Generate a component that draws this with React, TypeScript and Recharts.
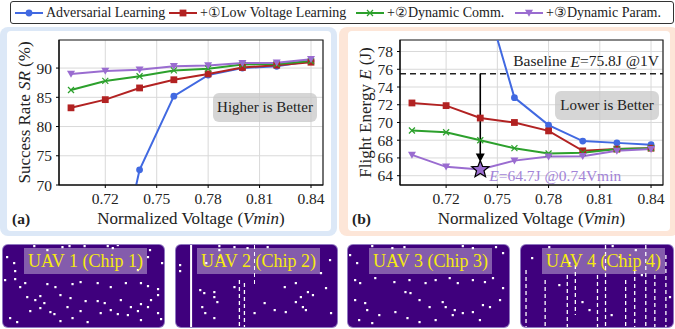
import React from 'react';
import {
  ComposedChart, Line, XAxis, YAxis, CartesianGrid, ReferenceLine, ReferenceArea, ReferenceDot,
  ScatterChart, Scatter,
} from 'recharts';

const FONT = '"Liberation Serif", "DejaVu Serif", serif';
const TXT = '#222';

// ---------- data ----------
const voltages = [0.70, 0.72, 0.74, 0.76, 0.78, 0.80, 0.82, 0.84];
const xTicks = [0.72, 0.75, 0.78, 0.81, 0.84];
const srTicks = [70, 75, 80, 85, 90];
const energyTicks = [64, 66, 68, 70, 72, 74, 76, 78];

const srAdversarial = [20, 46, 72.6, 85.2, 88.8, 90.0, 90.3, 91.2];
const srLowVoltage = [83.2, 84.6, 86.6, 88.0, 89.0, 90.1, 90.5, 91.0];
const srDynComm = [86.25, 87.8, 88.6, 89.6, 89.9, 90.6, 90.7, 91.2];
const srDynParam = [89.0, 89.5, 89.7, 90.3, 90.45, 90.85, 90.9, 91.5];

const eAdversarial = [115, 100, 86, 72.8, 69.7, 67.9, 67.7, 67.5];
const eLowVoltage = [72.2, 71.9, 70.5, 70.0, 69.05, 66.8, 67.0, 67.1];
const eDynComm = [69.1, 68.9, 68.0, 67.1, 66.5, 66.6, 67.0, 67.1];
const eDynParam = [66.35, 65.0, 64.7, 65.7, 66.15, 66.2, 66.8, 67.0];

const baselineEnergy = 75.5;
const bestVoltage = 0.74;
const bestEnergy = 64.7;

const seriesNames = ['Adversarial Learning', 'Low Voltage Learning', 'Dynamic Comm.', 'Dynamic Param.'];
const seriesPrefix = ['', '+\u2460', '+\u2461', '+\u2462'];
const seriesColors = ['#4169e1', '#b22222', '#2ca02c', '#9a6cd0'];
const seriesMarkers = ['circle', 'square', 'x', 'tri'];

const uavLabels = ['UAV 1 (Chip 1)', 'UAV 2 (Chip 2)', 'UAV 3 (Chip 3)', 'UAV 4 (Chip 4)'];

const uav1Dots = [
  [31, 1], [44, 5], [59, 2], [66, 1], [81, 1], [104, 1], [109, 3], [114, 0], [146, 5],
  [4, 12], [11, 18], [12, 26], [2, 35], [12, 34], [158, 18], [144, 12], [134, 25],
  [17, 42], [22, 38], [44, 39], [52, 42], [69, 39], [77, 37], [94, 38], [107, 42], [122, 38], [137, 38], [144, 41], [154, 44],
  [24, 52], [32, 55], [37, 51], [41, 58], [57, 50], [67, 53], [82, 56], [94, 56], [101, 58], [107, 65], [117, 55], [127, 62],
  [137, 59], [147, 55], [154, 50], [27, 66], [47, 67], [51, 69], [69, 73], [77, 66], [97, 68], [114, 69], [124, 70], [134, 66],
  [144, 62], [154, 68], [7, 73], [14, 77], [57, 76], [84, 77], [137, 75], [157, 74], [37, 63], [64, 62],
];
const uav2Dots = [
  [24, 45], [28, 48], [38, 47], [38, 52], [41, 57], [26, 62], [29, 68], [38, 73], [43, 1], [43, 5], [58, 2], [71, 3], [91, 2],
  [108, 42], [119, 38], [119, 57], [124, 52], [126, 62], [129, 65], [131, 47], [136, 50], [144, 28], [149, 43], [153, 15],
  [154, 68], [98, 65], [109, 67], [88, 58], [78, 68], [58, 42], [4, 20], [4, 26], [43, 12], [30, 18],
];
const uav3Dots = [
  [2, 10], [9, 18], [24, 1], [44, 3], [56, 2], [114, 1], [124, 3], [147, 2], [154, 8], [7, 35], [12, 38], [27, 33], [46, 37],
  [61, 35], [77, 38], [87, 35], [101, 33], [109, 38], [124, 35], [136, 37], [144, 33], [154, 43], [7, 55], [17, 58], [19, 65],
  [57, 47], [62, 48], [71, 55], [81, 62], [94, 57], [97, 62], [106, 65], [114, 68], [124, 67], [134, 60], [141, 62], [151, 55],
  [31, 70], [47, 67], [59, 73], [71, 77], [87, 75], [104, 70], [131, 75], [11, 75], [24, 78],
];
const uav4Dots = [
  [11, 13], [28, 2], [48, 18], [61, 57], [68, 65], [91, 1], [98, 12], [114, 5], [148, 52], [38, 40], [90, 70], [120, 30],
];
// vertical defect columns: [x, yStart, yEnd, width, dashed]
const uav2Columns = [[15, 0, 82, 2, 0], [63, 35, 82, 1.3, 1], [68, 38, 82, 1.3, 1], [78, 0, 40, 1, 1]];
const uav4Columns = [
  [5, 25, 82, 1.3, 1], [24, 35, 82, 1.3, 1], [46, 30, 82, 1.3, 1], [54, 20, 70, 1.3, 1], [76, 30, 82, 1.3, 1],
  [84, 0, 82, 1.3, 1], [104, 35, 82, 1.3, 1], [113, 25, 82, 1.3, 1], [124, 0, 82, 1.3, 1], [133, 30, 82, 1.3, 1], [144, 10, 82, 1.3, 1],
];

const srData = voltages.map((v, i) => ({ v, a: srAdversarial[i], b: srLowVoltage[i], c: srDynComm[i], d: srDynParam[i] }));
const eData = voltages.map((v, i) => ({ v, a: eAdversarial[i], b: eLowVoltage[i], c: eDynComm[i], d: eDynParam[i] }));
const seriesKeys = ['a', 'b', 'c', 'd'];

// ---------- marker shapes ----------
function markerShape(kind: string, color: string, cx: number, cy: number, key?: any) {
  if (kind === 'circle') return <circle key={key} cx={cx} cy={cy} r={3.4} fill={color} />;
  if (kind === 'square') return <rect key={key} x={cx - 3.4} y={cy - 3.4} width={6.8} height={6.8} fill={color} />;
  if (kind === 'x')
    return (
      <g key={key} stroke={color} strokeWidth={1.2}>
        <line x1={cx - 3} y1={cy - 3} x2={cx + 3} y2={cy + 3} />
        <line x1={cx - 3} y1={cy + 3} x2={cx + 3} y2={cy - 3} />
      </g>
    );
  return <polygon key={key} points={`${cx - 4},${cy - 3.2} ${cx + 4},${cy - 3.2} ${cx},${cy + 3.8}`} fill={color} />;
}

function makeDot(kind: string, color: string) {
  return (p: any) => {
    if (p.cx == null || p.cy == null || isNaN(p.cx) || isNaN(p.cy)) return <g key={`n${p.index}`} />;
    return markerShape(kind, color, p.cx, p.cy, `d${p.index}`);
  };
}

function starPath(cx: number, cy: number, R: number, r: number) {
  let d = '';
  for (let i = 0; i < 10; i++) {
    const ang = -Math.PI / 2 + (i * Math.PI) / 5;
    const rad = i % 2 === 0 ? R : r;
    d += (i === 0 ? 'M' : 'L') + (cx + rad * Math.cos(ang)).toFixed(2) + ',' + (cy + rad * Math.sin(ang)).toFixed(2);
  }
  return d + 'Z';
}

const tickStyle = { fontSize: 15.5, fill: TXT, fontFamily: FONT };

function xLabel(props: any) {
  const vb = props.viewBox;
  return (
    <text x={vb.x + vb.width / 2} y={vb.y + 33} textAnchor="middle" dominantBaseline="central"
      fontSize={17} fill={TXT} fontFamily={FONT}>
      Normalized Voltage (<tspan fontStyle="italic">Vmin</tspan>)
    </text>
  );
}

function yLabelFactory(parts: [string, string, string], cxOffset: number) {
  return (props: any) => {
    const vb = props.viewBox;
    const x = cxOffset;
    const y = vb.y + vb.height / 2;
    return (
      <text x={x} y={y} transform={`rotate(-90 ${x} ${y})`} textAnchor="middle" dominantBaseline="central"
        fontSize={17} fill={TXT} fontFamily={FONT}>
        {parts[0]}<tspan fontStyle="italic">{parts[1]}</tspan>{parts[2]}
      </text>
    );
  };
}

function renderSeries() {
  return seriesKeys.map((k, i) => (
    <Line key={k} dataKey={k} type="linear" stroke={seriesColors[i]} strokeWidth={2}
      dot={makeDot(seriesMarkers[i], seriesColors[i])} activeDot={false} isAnimationActive={false} />
  ));
}

function SuccessChart() {
  return (
    <ComposedChart width={337} height={236} data={srData} margin={{ top: 40, right: 14, bottom: 21, left: 0 }}>
      <CartesianGrid stroke="#d9d9d9" strokeWidth={1} />
      <XAxis dataKey="v" type="number" domain={[0.693, 0.847]} ticks={xTicks} allowDataOverflow interval={0}
        tickFormatter={(v: number) => v.toFixed(2)} height={30} tickSize={3} tickMargin={5}
        tick={tickStyle} axisLine={{ stroke: '#000' }} tickLine={{ stroke: '#000' }} label={{ content: xLabel }} />
      <YAxis type="number" domain={[70, 94.8]} ticks={srTicks} allowDataOverflow interval={0} width={59} tickSize={3} tickMargin={4}
        tick={tickStyle} axisLine={{ stroke: '#000' }} tickLine={{ stroke: '#000' }}
        label={{ content: yLabelFactory(['Success Rate ', 'SR', ' (%)'], 24) }} />
      <ReferenceArea x1={0.693} x2={0.847} y1={70} y2={94.8} fill="none" stroke="#222" strokeWidth={1.2} ifOverflow="visible" />
      {renderSeries()}
    </ComposedChart>
  );
}

function EnergyChart() {
  return (
    <ComposedChart width={338} height={236} data={eData} margin={{ top: 40, right: 12, bottom: 21, left: 0 }}>
      <CartesianGrid stroke="#d9d9d9" strokeWidth={1} />
      <XAxis dataKey="v" type="number" domain={[0.693, 0.847]} ticks={xTicks} allowDataOverflow interval={0}
        tickFormatter={(v: number) => v.toFixed(2)} height={30} tickSize={3} tickMargin={5}
        tick={tickStyle} axisLine={{ stroke: '#000' }} tickLine={{ stroke: '#000' }} label={{ content: xLabel }} />
      <YAxis type="number" domain={[62.95, 79.3]} ticks={energyTicks} allowDataOverflow interval={0} width={63} tickSize={3} tickMargin={4}
        tick={tickStyle} axisLine={{ stroke: '#000' }} tickLine={{ stroke: '#000' }}
        label={{ content: yLabelFactory(['Flight Energy ', 'E', ' (J)'], 28) }} />
      <ReferenceArea x1={0.693} x2={0.847} y1={62.95} y2={79.3} fill="none" stroke="#222" strokeWidth={1.2} ifOverflow="visible" />
      <ReferenceLine y={baselineEnergy} stroke="#222" strokeWidth={1.6} strokeDasharray="6 4"
        label={{
          content: (p: any) => (
            <text x={p.viewBox.x + p.viewBox.width - 4} y={p.viewBox.y - 13} textAnchor="end" dominantBaseline="central"
              fontSize={15.5} fill={TXT} fontFamily={FONT}>
              Baseline <tspan fontStyle="italic">E</tspan>=75.8J @1V
            </text>
          ),
        }} />
      {renderSeries()}
      <ReferenceLine segment={[{ x: bestVoltage, y: baselineEnergy }, { x: bestVoltage, y: 66.3 }]} stroke="#000" strokeWidth={1.6} />
      <ReferenceDot x={bestVoltage} y={65.55} r={1} ifOverflow="visible"
        shape={(p: any) => (
          <polygon points={`${p.cx - 4.5},${p.cy - 8.5} ${p.cx + 4.5},${p.cy - 8.5} ${p.cx},${p.cy}`} fill="#000" />
        )} />
      <ReferenceDot x={bestVoltage} y={bestEnergy} r={1} ifOverflow="visible"
        shape={(p: any) => (
          <path d={starPath(p.cx, p.cy, 9, 3.9)} fill="#9a6cd0" stroke="#000" strokeWidth={1.2} strokeLinejoin="miter" />
        )}
        label={{
          content: (p: any) => {
            const vb = p.viewBox;
            const cx = vb.x + (vb.width || 0) / 2;
            const cy = vb.y + (vb.height || 0) / 2;
            return (
              <text x={cx + 9} y={cy + 6} dominantBaseline="central" fontSize={15.5} fill="#a384d8" fontFamily={FONT}>
                <tspan fontStyle="italic">E</tspan>=64.7J @0.74Vmin
              </text>
            );
          },
        }} />
    </ComposedChart>
  );
}

function LegendIcon({ i }: { i: number }) {
  return (
    <svg width={28} height={12} style={{ display: 'block' }}>
      <line x1={0} y1={6} x2={28} y2={6} stroke={seriesColors[i]} strokeWidth={2} />
      {markerShape(seriesMarkers[i], seriesColors[i], 14, 6)}
    </svg>
  );
}

const legendLefts = [15, 169, 356, 515];

function LegendBox() {
  return (
    <div style={{ position: 'absolute', left: 10, top: 1, width: 662, height: 21, border: '1px solid #333', borderRadius: 3, background: '#fff' }}>
      {seriesNames.map((n, i) => (
        <div key={n} style={{ position: 'absolute', left: legendLefts[i] - 11, top: 0, height: 21, display: 'flex', alignItems: 'center', whiteSpace: 'nowrap', fontFamily: FONT, fontSize: 14, color: TXT }}>
          <LegendIcon i={i} />
          <span style={{ marginLeft: 3 }}>{seriesPrefix[i]}{n}</span>
        </div>
      ))}
    </div>
  );
}

function whiteDot(p: any) {
  return <rect x={p.cx - 1} y={p.cy - 1} width={2.2} height={2.2} fill="#fff" />;
}

function UavPanel({ left, width, label, dots, cols }: { left: number; width: number; label: string; dots: number[][]; cols: number[][] }) {
  const data = dots.map(([x, y]) => ({ x, y }));
  return (
    <div style={{ position: 'absolute', left, top: 245, width, height: 82, background: '#3f007d', borderRadius: 5, overflow: 'hidden', boxShadow: '0 0 0 1px #8f77c0' }}>
      <ScatterChart width={161} height={82} margin={{ top: 0, right: 0, bottom: 0, left: 0 }}>
        <XAxis type="number" dataKey="x" domain={[0, 160]} hide />
        <YAxis type="number" dataKey="y" domain={[0, 82]} reversed hide />
        {cols.map((c, j) => (
          <ReferenceLine key={j} segment={[{ x: c[0], y: c[1] }, { x: c[0], y: c[2] }]} stroke="#fff" strokeWidth={c[3]}
            strokeDasharray={c[4] ? '4 3' : undefined} ifOverflow="visible" />
        ))}
        <Scatter data={data} shape={whiteDot} isAnimationActive={false} />
      </ScatterChart>
      <div style={{ position: 'absolute', left: 21, top: 3, width: 123, height: 26, background: 'rgba(255,255,255,0.36)', display: 'flex', alignItems: 'center', justifyContent: 'center', fontFamily: FONT, fontSize: 18, color: '#f5ea10', whiteSpace: 'nowrap' }}>
        {label}
      </div>
    </div>
  );
}

export default function App() {
  const badge = (l: number, t: number, txt: string) => (
    <div style={{ position: 'absolute', left: l, top: t, width: 104, height: 29, background: 'rgba(200,200,200,0.75)', borderRadius: 6, display: 'flex', alignItems: 'center', justifyContent: 'center', fontFamily: FONT, fontSize: 15, color: TXT }}>
      {txt}
    </div>
  );
  return (
    <div style={{ position: 'absolute', left: 0, top: 0, width: 675, height: 329, overflow: 'hidden', background: '#fff' }}>
      {/* panel frames */}
      <div style={{ position: 'absolute', left: 0, top: 27, width: 337, height: 209, background: '#dce8f7', borderRadius: 8 }} />
      <div style={{ position: 'absolute', left: 7, top: 31, width: 324, height: 200, background: '#fff', borderRadius: 4 }} />
      <div style={{ position: 'absolute', left: 339, top: 27, width: 340, height: 209, background: '#fde6d8', borderRadius: 8 }} />
      <div style={{ position: 'absolute', left: 348, top: 31, width: 322, height: 200, background: '#fff', borderRadius: 4 }} />

      <div style={{ position: 'absolute', left: 0, top: 0 }}><SuccessChart /></div>
      <div style={{ position: 'absolute', left: 337, top: 0 }}><EnergyChart /></div>

      {badge(213, 93, 'Higher is Better')}
      {badge(555, 91, 'Lower is Better')}

      <div style={{ position: 'absolute', left: 12, top: 210, fontFamily: FONT, fontWeight: 'bold', fontSize: 15.5, color: TXT }}>(a)</div>
      <div style={{ position: 'absolute', left: 352, top: 210, fontFamily: FONT, fontWeight: 'bold', fontSize: 15.5, color: TXT }}>(b)</div>

      <LegendBox />

      <UavPanel left={3} width={161} label={uavLabels[0]} dots={uav1Dots} cols={[]} />
      <UavPanel left={176} width={161} label={uavLabels[1]} dots={uav2Dots} cols={uav2Columns} />
      <UavPanel left={348} width={161} label={uavLabels[2]} dots={uav3Dots} cols={[]} />
      <UavPanel left={521} width={152} label={uavLabels[3]} dots={uav4Dots} cols={uav4Columns} />
    </div>
  );
}
